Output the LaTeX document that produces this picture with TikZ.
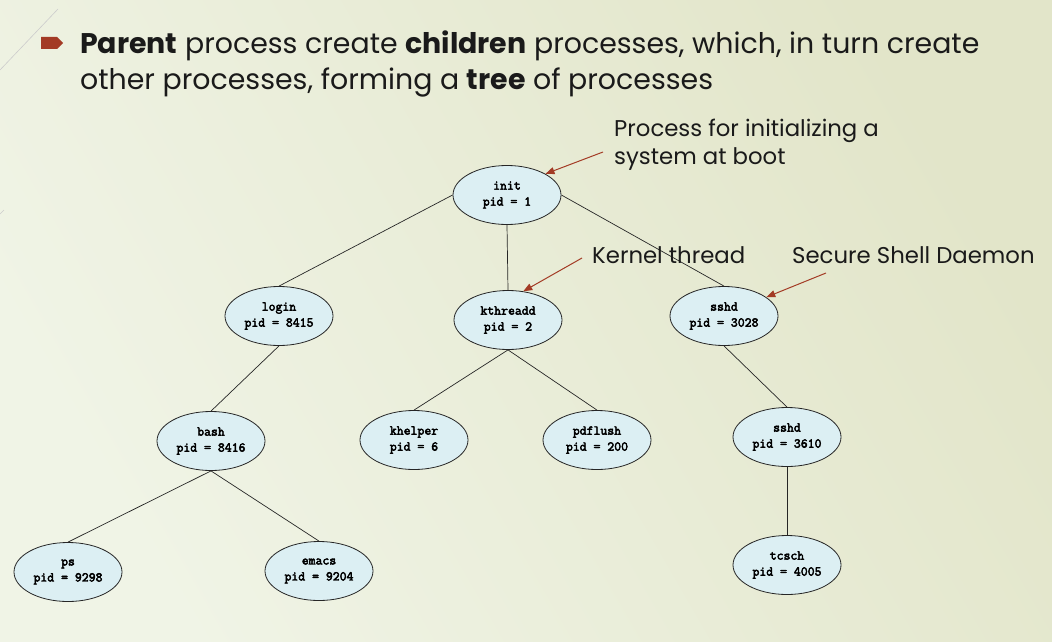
\documentclass[tikz,border=0pt]{standalone}
\usepackage{fontspec}
\setmainfont{Poppins}
\newfontfamily\procfont{Latin Modern Mono}[FakeBold=3.2]
\usetikzlibrary{shapes.geometric,arrows.meta}
\definecolor{rust}{HTML}{A33B25}
\definecolor{procfill}{HTML}{DCEFF3}
\definecolor{ink}{HTML}{1A1A1A}
\definecolor{bgA}{HTML}{F0F4E6}
\definecolor{bgB}{HTML}{F7F8F1}
\definecolor{bgC}{HTML}{E2E5C9}
\begin{document}
\begin{tikzpicture}[x=1pt,y=-1pt,
  proc/.style={ellipse, draw=black!85, line width=0.8pt, fill=procfill,
    minimum width=108pt, minimum height=59pt, inner sep=0pt, align=center,
    font=\procfont\fontsize{13.4}{16}\selectfont},
  edge/.style={draw=black!85, line width=0.7pt},
  note/.style={draw=rust, line width=1pt, -{Triangle[length=9pt,width=7pt]}},
  notetext/.style={anchor=base west, inner sep=0pt, text=ink,
    font=\fontsize{22.8}{29}\selectfont},
  titletext/.style={anchor=base west, inner sep=0pt, text=ink,
    font=\fontsize{28.4}{34}\selectfont}]

% slide background
\shade[shading=axis, left color=bgA, middle color=bgB, right color=bgC, shading angle=120]
  (0,0) rectangle (1052,642);
\useasboundingbox (0,0) rectangle (1052,642);
\draw[black!20, line width=0.6pt] (58,9) -- (0,70);
\draw[black!20, line width=0.6pt] (4,210) -- (0,214);

% bullet and heading
\fill[rust] (41,37) -- (57,37) -- (63,43) -- (57,49) -- (41,49) -- cycle;
\node[titletext] (t1) at (80,54) {\textbf{Parent} process create \textbf{children} processes, which, in turn create};
\node[titletext] (t2) at (80,89) {other processes, forming a \textbf{tree} of processes};

% process tree
\node[proc] (init)  at (507,195) {init\\pid = 1};
\node[proc] (login) at (279,316) {login\\pid = 8415};
\node[proc] (kthr)  at (508,320) {kthreadd\\pid = 2};
\node[proc] (sshdA) at (724,316) {sshd\\pid = 3028};
\node[proc] (bash)  at (211,441) {bash\\pid = 8416};
\node[proc] (khelp) at (414,440) {khelper\\pid = 6};
\node[proc] (pdfl)  at (597,440) {pdflush\\pid = 200};
\node[proc] (sshdB) at (787,437) {sshd\\pid = 3610};
\node[proc] (ps)    at (68,572)  {ps\\pid = 9298};
\node[proc] (emacs) at (319,571) {emacs\\pid = 9204};
\node[proc] (tcsch) at (787,565) {tcsch\\pid = 4005};

\draw[edge] (init.west) -- (login.north);
\draw[edge] (init.south) -- (kthr.north);
\draw[edge] (init.east) -- (sshdA.north);
\draw[edge] (login.south) -- (bash.north);
\draw[edge] (kthr.south) -- (khelp.north);
\draw[edge] (kthr.south) -- (pdfl.north);
\draw[edge] (sshdA.south) -- (sshdB.north);
\draw[edge] (bash.south) -- (ps.north);
\draw[edge] (bash.south) -- (emacs.north);
\draw[edge] (sshdB.south) -- (tcsch.north);

% annotations
\node[notetext] (n1a) at (614,136) {Process for initializing a};
\node[notetext] (n1b) at (614,164) {system at boot};
\node[notetext] (n2) at (592,263) {Kernel thread};
\node[notetext] (n3) at (792,263) {Secure Shell Daemon};
\coordinate (c1) at (603,152);
\coordinate (c2) at (582,258);
\coordinate (c3) at (826,273);
\draw[note] (c1) -- (init.north east);
\draw[note] (c2) -- (kthr.62);
\draw[note] (c3) -- (sshdA.24);
\end{tikzpicture}
\end{document}
